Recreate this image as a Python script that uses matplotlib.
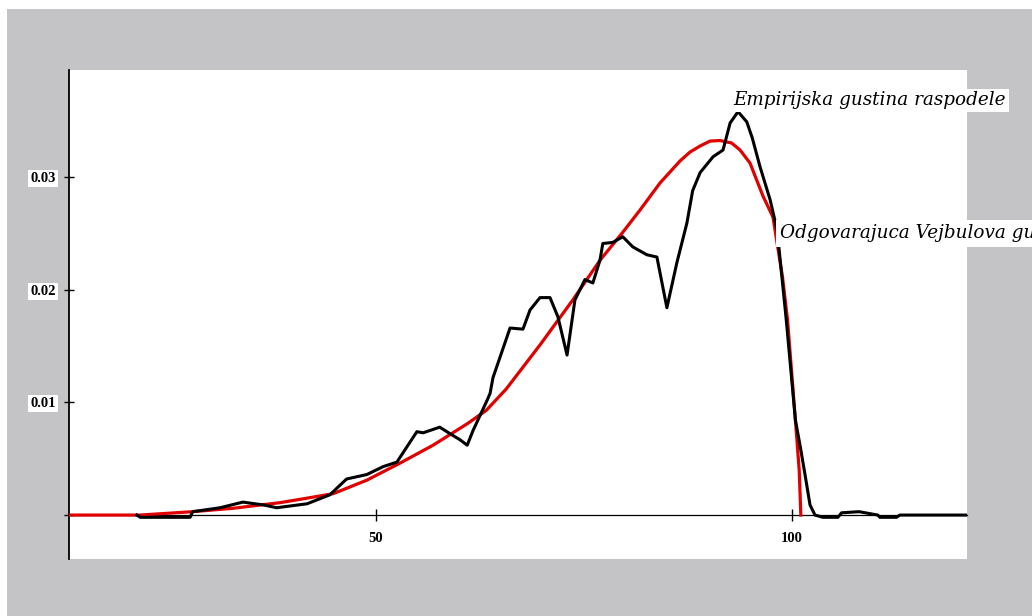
import matplotlib
matplotlib.use("Agg")
import matplotlib.pyplot as plt

# Empirical density (black) sampled along x
emp_x = [21.3, 21.7, 23.85, 26.1, 27.7, 28.0, 31.3, 34.05, 36.5, 38.1, 41.75, 44.5,
         46.5, 48.95, 50.9, 52.55, 54.95, 55.7, 57.7, 59.2, 60.1, 61.0, 61.7, 63.4,
         63.75, 64.1, 66.15, 67.7, 68.55, 69.75, 70.95, 71.9, 73.0, 73.95, 75.15,
         76.1, 76.95, 77.3, 78.5, 79.7, 80.9, 82.6, 83.8, 85.0, 86.2, 87.4, 88.1,
         89.0, 90.55, 91.75, 92.6, 93.55, 94.6, 95.25, 96.2, 97.4, 98.25, 99.35,
         100.45, 101.0, 101.6, 102.2, 102.8, 103.75, 105.55, 106.0, 108.1, 110.35,
         110.6, 112.6, 113.0, 121.1]
emp_y = [0.0, -0.0002, -0.0002, -0.0002, -0.0002, 0.0003, 0.00065, 0.00115, 0.0009,
         0.00065, 0.001, 0.0018, 0.0032, 0.0036, 0.0043, 0.0047, 0.0074, 0.0073,
         0.0078, 0.0071, 0.0067, 0.0062, 0.0075, 0.0102, 0.0108, 0.0122, 0.0166,
         0.0165, 0.0182, 0.0193, 0.0193, 0.0176, 0.0142, 0.0191, 0.0209, 0.0206,
         0.0226, 0.0241, 0.0242, 0.0247, 0.0238, 0.0231, 0.0229, 0.0184, 0.0224,
         0.0259, 0.0288, 0.0304, 0.0318, 0.0324, 0.0348, 0.0358, 0.0349, 0.0335,
         0.0309, 0.0280, 0.0253, 0.0173, 0.0084, 0.0062, 0.0036, 0.0009, 0.0,
         -0.0002, -0.0002, 0.0002, 0.0003, 0.0, -0.0002, -0.0002, 0.0, 0.0]

# Fitted Weibull density (red)
wb_x = [13.1, 21.7, 28.0, 32.85, 38.5, 41.75, 44.9, 48.95, 52.9, 56.9, 61.0, 63.3,
        65.7, 69.75, 73.7, 76.95, 79.7, 81.77, 84.17, 86.57, 87.78, 88.98, 90.18,
        91.38, 92.78, 93.79, 94.99, 96.55, 97.75, 98.9, 99.5, 100.45, 100.9, 101.1]
wb_y = [0.0, 0.0, 0.0003, 0.0006, 0.0011, 0.0015, 0.0019, 0.0031, 0.0046, 0.0062,
        0.0081, 0.0093, 0.0112, 0.0151, 0.0191, 0.0226, 0.0251, 0.02707, 0.02947,
        0.03142, 0.03222, 0.03275, 0.03319, 0.03324, 0.03302, 0.03240, 0.03124,
        0.02831, 0.02645, 0.0211, 0.0173, 0.0084, 0.0040, 0.0]

x_ticks = [50, 100]
y_ticks = [0.0, 0.01, 0.02, 0.03]
y_tick_labels = ["", "0.01", "0.02", "0.03"]

W, H = 1032, 616
fig = plt.figure(figsize=(W / 100, H / 100), dpi=100)
fig.patch.set_facecolor("white")

# grey panel behind the plot area
fig.add_artist(plt.Rectangle((7 / W, 0), 1, 1 - 9 / H, transform=fig.transFigure,
                             facecolor="#c4c3c6", edgecolor="none", zorder=0))

left, right, top, bottom = 69, 967, 70, 559
ax = fig.add_axes([left / W, 1 - bottom / H, (right - left) / W, (bottom - top) / H])
ax.set_facecolor("white")
ax.set_zorder(1)

ax.plot(wb_x, wb_y, color="#e00000", lw=2.3, solid_joinstyle="round", zorder=3)
ax.plot(emp_x, emp_y, color="black", lw=2.2, solid_joinstyle="round", zorder=4)

ax.set_xlim(13.14, 121.07)
ax.set_ylim(-0.0039, 0.0395)

for s in ("top", "right"):
    ax.spines[s].set_visible(False)
ax.spines["bottom"].set_position(("data", 0))
ax.spines["bottom"].set_linewidth(0.9)
ax.spines["left"].set_linewidth(1.3)

tick_font = dict(family="Liberation Serif", weight="bold", size=10.5)
ax.set_xticks(x_ticks)
ax.set_xticklabels([str(v) for v in x_ticks], fontdict=tick_font)
ax.set_yticks(y_ticks)
ax.set_yticklabels(y_tick_labels, fontdict=tick_font)
ax.tick_params(axis="x", direction="inout", length=8, width=1, pad=8)
ax.tick_params(axis="y", direction="inout", length=7, width=1, pad=6)
for lab in ax.get_yticklabels():
    lab.set_bbox(dict(facecolor="white", edgecolor="none", pad=1.5))

label_font = dict(family="DejaVu Serif", style="italic", size=13.2)
ax.text(93.0, 0.0368, "Empirijska gustina raspodele", ha="left", va="center",
        clip_on=False, zorder=5,
        bbox=dict(facecolor="white", edgecolor="none", pad=2), **label_font)
ax.text(98.6, 0.0250, "Odgovarajuca Vejbulova gustina raspodele", ha="left",
        va="center", clip_on=False, zorder=5,
        bbox=dict(facecolor="white", edgecolor="none", pad=3), **label_font)

fig.savefig("out.png", dpi=100)
